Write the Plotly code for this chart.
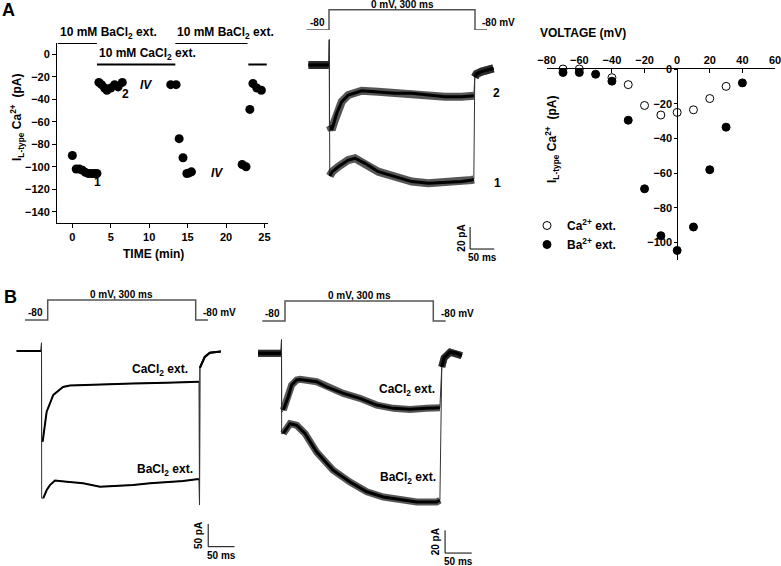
import plotly.graph_objects as go

W, H = 781, 566
FONT = "Liberation Sans, Arial, sans-serif"

# ---------------- DATA ----------------
# Panel A (left): time course of I L-type (pA) vs time (min)
tc_time = [0.0, 0.5, 0.9, 1.3, 1.7, 2.1, 2.5, 2.9, 3.2,
           3.45, 3.8, 4.2, 4.5, 5.0, 5.5, 5.95, 6.5,
           12.8, 13.5, 13.9, 14.4, 14.9, 15.2, 15.5,
           22.1, 22.6, 23.1, 23.5, 24.0, 24.6]
tc_current = [-90, -102, -102, -103, -105, -106, -106, -106, -106,
              -25, -27, -30, -32, -30, -27, -29, -25,
              -27, -27, -75, -92, -106, -105.5, -104.5,
              -98, -100, -49, -26, -30, -32]
tc_ticks_x = [0, 5, 10, 15, 20, 25]
tc_ticks_y = [0, -20, -40, -60, -80, -100, -120, -140]
# solution application periods (min)
ba_periods = [(-1.9, 3.2), (13.4, 22.8)]
ca_periods = [(3.2, 13.4), (22.9, 25.3)]

# Panel A (right): I-V relation
iv_voltage = [-70, -60, -50, -40, -30, -20, -10, 0, 10, 20, 30, 40]
iv_ca = [0, 0, 1, -5, -9, -21, -26.5, -25, -23.5, -17, -10, 1]
iv_ba = [-2, -2, -3, -7, -29.5, -69, -96, -104.5, -91, -58, -33.5, -8]
iv_ticks_x = [-80, -60, -40, -20, 0, 20, 40, 60]
iv_ticks_y = [0, -20, -40, -60, -80, -100]

# Voltage protocol (ms, mV)
prot_t = [-46, 0, 0, 300, 300, 325]
prot_v = [-80, -80, 0, 0, -80, -80]

# Panel A (middle): current traces (ms, pA)
a_pre_t = [-43, -30, -20, -10, -1]
a_pre_i = [0, 0, 0, 0, 0]
a_ca_t = [1, 5, 10, 15.3, 25.7, 39.3, 67, 101, 136, 170.6, 205, 239.5, 274, 295, 299]
a_ca_i = [-55, -59, -52, -43.9, -33.4, -27.3, -23.4, -24.3, -25.7, -25.7, -27.3, -28.8, -28.8, -27.9, -28]
a_ba_t = [1, 6.2, 18.6, 39.3, 53.2, 73.9, 101.4, 136, 170.6, 205, 239.5, 274, 295, 299]
a_ba_i = [-101, -97, -92.5, -86.4, -84.8, -89.4, -97, -101.5, -106, -107.5, -107, -106, -104.5, -104]
a_tail_t = [301, 305, 315.5, 339.5]
a_tail_i = [-11, -8, -6, -3]

# Panel B (left): current traces (ms, pA)
b1_pre_t = [-47, -35, -20, -5, -1]
b1_pre_i = [0, 0, 0, 0, 0]
b1_ca_t = [2.2, 9.8, 22.4, 40.8, 54, 79, 111, 174, 237.6, 287.5, 299]
b1_ca_i = [-200, -134, -97, -79.5, -76, -75, -73, -71.5, -70, -68, -68]
b1_ba_t = [3.4, 9.9, 16, 25.6, 47.8, 79, 111, 142.7, 174, 206, 237.6, 269, 294.5, 299]
b1_ba_i = [-325, -307, -296, -286, -288.5, -292, -299.5, -298, -296, -292, -290, -287, -283, -283]
b1_tail_t = [300.8, 310, 319.7, 340.6]
b1_tail_i = [-37, -13, -4, -1]

# Panel B (right): current traces (ms, pA)
b2_pre_t = [-44, -30, -15, -1]
b2_pre_i = [0, 0, 0, 0]
b2_ca_t = [3.4, 12.8, 19, 28.5, 34.7, 66, 85, 116, 147, 178.6, 210, 241, 272, 297]
b2_ca_i = [-50, -38, -28, -23.5, -23, -25, -29.5, -35.3, -39.7, -45.6, -48.5, -49.4, -48.5, -48]
b2_ba_t = [3.4, 16, 28.5, 44, 66, 96.6, 128.5, 160, 191, 222, 253.7, 291, 297]
b2_ba_i = [-70.6, -62, -63.4, -70.6, -87, -103, -113.4, -122, -126.6, -129, -131, -131, -129.5]
b2_tail_t = [300.5, 305, 316, 328.8, 338]
b2_tail_i = [-12, -4, 1, 0, -2]

# ---------------- LAYOUT HELPERS ----------------
def lin_range(p_lo, p_hi, v1, p1, v2, p2):
    k = (v2 - v1) / (p2 - p1)
    return [v1 + (p_lo - p1) * k, v1 + (p_hi - p1) * k]

def xdom(a, b):
    return [a / W, b / W]

def ydom(top, bottom):
    return [1 - bottom / H, 1 - top / H]

def hidden_x(a, b, anchors, yname):
    return dict(domain=xdom(a, b), range=lin_range(a, b, *anchors), visible=False,
                anchor=yname, fixedrange=True)

def hidden_y(top, bottom, anchors, xname):
    return dict(domain=ydom(top, bottom), range=lin_range(bottom, top, *anchors), visible=False,
                anchor=xname, fixedrange=True)

fig = go.Figure()
BOLD = dict(family=FONT, color="black", weight="bold")

def f(size):
    d = dict(BOLD)
    d["size"] = size
    return d

annotations = []

def ann(text, x, y, xref, yref, size=11, xanchor="center", yanchor="middle",
        angle=0, xshift=0, yshift=0):
    annotations.append(dict(text=text, x=x, y=y, xref=xref, yref=yref, showarrow=False,
                            font=f(size), xanchor=xanchor, yanchor=yanchor,
                            textangle=angle, xshift=xshift, yshift=yshift))

# ---------------- PANEL A left: time course ----------------
for (t0, t1) in ba_periods:
    fig.add_trace(go.Scatter(x=[t0, t1], y=[10, 10], mode="lines", xaxis="x", yaxis="y",
                             line=dict(color="black", width=2), cliponaxis=False,
                             showlegend=False, hoverinfo="skip"))
    ann("10 mM BaCl<sub>2</sub> ext.", t0, 10, "x", "y", size=12, xanchor="left",
        yanchor="bottom", yshift=0)
for i, (t0, t1) in enumerate(ca_periods):
    fig.add_trace(go.Scatter(x=[t0, t1], y=[-9, -9], mode="lines", xaxis="x", yaxis="y",
                             line=dict(color="black", width=2), cliponaxis=False,
                             showlegend=False, hoverinfo="skip"))
    if i == 0:
        ann("10 mM CaCl<sub>2</sub> ext.", t0, -9, "x", "y", size=12, xanchor="left",
            yanchor="bottom")

fig.add_trace(go.Scatter(x=tc_time, y=tc_current, mode="markers", xaxis="x", yaxis="y",
                         marker=dict(color="black", size=9), cliponaxis=False,
                         showlegend=False))
ann("1", 3.3, -113.7, "x", "y", size=12)
ann("2", 6.9, -35.7, "x", "y", size=12)
ann("<i>IV</i>", 9.6, -27.5, "x", "y", size=12)
ann("<i>IV</i>", 18.8, -105.2, "x", "y", size=12)
ann("TIME (min)", 153 / W, 1 - 254 / H, "paper", "paper", size=12)
ann("I<sub>L-type</sub> Ca<sup>2+</sup>  (pA)", 17 / W, 1 - 118 / H, "paper", "paper",
    size=12, angle=-90)

axis_common = dict(showgrid=False, zeroline=False, showline=True, linecolor="black",
                   linewidth=1, ticks="outside", tickcolor="black", ticklen=4,
                   tickfont=f(11), fixedrange=True, automargin=False)
fig.update_layout(
    xaxis=dict(domain=xdom(57, 268.3), range=[-2, 25.5], tickvals=tc_ticks_x,
               anchor="y", **axis_common),
    yaxis=dict(domain=ydom(43, 223), range=[-150, 10], tickvals=tc_ticks_y,
               anchor="x", **axis_common),
)

# ---------------- generic recording drawing ----------------
def add_recording(xa, ya, pre_t, pre_i, step_t, step_i, tail_t, tail_i,
                  on_peak, on_min, off_min, band_w, core_w):
    # thin transient path
    tx = pre_t + [0, 0.3] + step_t
    ty = pre_i + [on_peak, on_min] + step_i
    if off_min is not None:
        tx += [300, 300.3]
        ty += [off_min, tail_i[0]]
    tx += tail_t
    ty += tail_i
    fig.add_trace(go.Scatter(x=tx, y=ty, mode="lines", xaxis=xa, yaxis=ya,
                             line=dict(color="#333333", width=1), showlegend=False,
                             hoverinfo="skip", cliponaxis=False))
    bx = pre_t + [None] + step_t + [None] + tail_t
    by = pre_i + [None] + step_i + [None] + tail_i
    if band_w > 0:
        fig.add_trace(go.Scatter(x=bx, y=by, mode="lines", xaxis=xa, yaxis=ya,
                                 line=dict(color="rgba(30,30,30,0.75)", width=band_w),
                                 showlegend=False, hoverinfo="skip", cliponaxis=False))
    fig.add_trace(go.Scatter(x=bx, y=by, mode="lines", xaxis=xa, yaxis=ya,
                             line=dict(color="black", width=core_w), showlegend=False,
                             hoverinfo="skip", cliponaxis=False))

def add_protocol(xa, ya):
    fig.add_trace(go.Scatter(x=prot_t, y=prot_v, mode="lines", xaxis=xa, yaxis=ya,
                             line=dict(color="#555555", width=1.5), showlegend=False,
                             hoverinfo="skip", cliponaxis=False))
    ann("0 mV, 300 ms", 150, 0, xa, ya, size=10, yanchor="bottom", yshift=-2)
    ann("-80", prot_t[0], -80, xa, ya, size=10, xanchor="left", yanchor="bottom", xshift=1)
    ann("-80 mV", 311, -80, xa, ya, size=10, xanchor="left", yanchor="bottom")

def add_scalebar(xa, ya, t0, i0, ms, pa, ms_label, pa_label):
    fig.add_trace(go.Scatter(x=[t0, t0, t0 + ms], y=[i0 + pa, i0, i0], mode="lines",
                             xaxis=xa, yaxis=ya, line=dict(color="black", width=1),
                             showlegend=False, hoverinfo="skip", cliponaxis=False))
    ann(pa_label, t0, i0 + pa / 2, xa, ya, size=10, angle=-90, xanchor="right", xshift=-2)
    ann(ms_label, t0 + ms / 2, i0, xa, ya, size=10, yanchor="top", yshift=-1)

# ---------------- PANEL A middle ----------------
fig.update_layout(
    xaxis2=hidden_x(300, 520, (0, 329, 300, 475), "y2"),
    yaxis2=hidden_y(0, 40, (-80, 30, 0, 9.7), "x2"),
    xaxis3=hidden_x(295, 520, (0, 329.3, 300, 474.3), "y3"),
    yaxis3=hidden_y(30, 275, (0, 65, -20, 87), "x3"),
)
add_protocol("x2", "y2")
add_recording("x3", "y3", a_pre_t, a_pre_i, a_ca_t, a_ca_i, a_tail_t, a_tail_i,
              23, -60, None, 8, 3)
add_recording("x3", "y3", a_pre_t, a_pre_i, a_ba_t, a_ba_i, a_tail_t, a_tail_i,
              23, -101, None, 8, 3)
ann("2", 334.8, -25.5, "x3", "y3", size=12, xanchor="left")
ann("1", 337, -107.3, "x3", "y3", size=12, xanchor="left")
add_scalebar("x3", "y3", 291.3, -167.3, 50, 20, "50 ms", "20 pA")

# ---------------- PANEL A right: I-V ----------------
fig.add_trace(go.Scatter(x=iv_voltage, y=iv_ca, mode="markers", xaxis="x4", yaxis="y4",
                         name="Ca<sup>2+</sup> ext.", cliponaxis=False,
                         marker=dict(color="white", size=8,
                                     line=dict(color="black", width=1))))
fig.add_trace(go.Scatter(x=iv_voltage, y=iv_ba, mode="markers", xaxis="x4", yaxis="y4",
                         name="Ba<sup>2+</sup> ext.", cliponaxis=False,
                         marker=dict(color="black", size=8,
                                     line=dict(color="black", width=1))))
fig.update_layout(
    xaxis4=dict(domain=xdom(546.7, 775), range=[-80, 60], tickvals=iv_ticks_x, side="top",
                anchor="y4", showgrid=False, zeroline=False, showline=True,
                linecolor="black", linewidth=1, ticks="inside", ticklen=4,
                tickcolor="black", tickfont=f(11), fixedrange=True, automargin=False,
                ticklabeloverflow="allow"),
    yaxis4=dict(domain=ydom(69, 260), range=[-110, 0], tickvals=iv_ticks_y,
                anchor="free", position=677.3 / W, showgrid=False, zeroline=False,
                showline=True, linecolor="black", linewidth=1, ticks="outside",
                ticklen=3, tickcolor="black", tickfont=f(11), fixedrange=True,
                automargin=False),
)
ann("VOLTAGE (mV)", 583 / W, 1 - 33 / H, "paper", "paper", size=12)
ann("I<sub>L-type</sub> Ca<sup>2+</sup>  (pA)", 552 / W, 1 - 140 / H, "paper", "paper",
    size=12, angle=-90)

# ---------------- PANEL B left ----------------
fig.update_layout(
    xaxis5=hidden_x(10, 250, (0, 47.7, 300, 195.7), "y5"),
    yaxis5=hidden_y(285, 330, (-80, 320, 0, 300), "x5"),
    xaxis6=hidden_x(10, 250, (0, 41.5, 300, 199.5), "y6"),
    yaxis6=hidden_y(330, 566, (0, 351, -50, 373.65), "x6"),
)
add_protocol("x5", "y5")
add_recording("x6", "y6", b1_pre_t, b1_pre_i, b1_ca_t, b1_ca_i, b1_tail_t, b1_tail_i,
              18, -200, -340, 0, 2)
add_recording("x6", "y6", b1_pre_t, b1_pre_i, b1_ba_t, b1_ba_i, b1_tail_t, b1_tail_i,
              18, -325, -340, 0, 2)
ann("CaCl<sub>2</sub> ext.", 225, -42, "x6", "y6", size=12)
ann("BaCl<sub>2</sub> ext.", 234.5, -263, "x6", "y6", size=12)
add_scalebar("x6", "y6", 316.5, -432, 50, 50, "50 ms", "50 pA")

# ---------------- PANEL B right ----------------
fig.update_layout(
    xaxis7=hidden_x(255, 500, (0, 285, 300, 433.3), "y7"),
    yaxis7=hidden_y(285, 330, (-80, 321, 0, 301), "x7"),
    xaxis8=hidden_x(255, 500, (0, 281.5, 300, 441.5), "y8"),
    yaxis8=hidden_y(330, 566, (0, 353.3, -20, 376), "x8"),
)
add_protocol("x7", "y7")
add_recording("x8", "y8", b2_pre_t, b2_pre_i, b2_ca_t, b2_ca_i, b2_tail_t, b2_tail_i,
              12, -52, None, 7, 3)
add_recording("x8", "y8", b2_pre_t, b2_pre_i, b2_ba_t, b2_ba_i, b2_tail_t, b2_tail_i,
              12, -71, None, 7, 3)
ann("CaCl<sub>2</sub> ext.", 235.6, -32.4, "x8", "y8", size=12)
ann("BaCl<sub>2</sub> ext.", 237.3, -110, "x8", "y8", size=12)
add_scalebar("x8", "y8", 306.7, -176, 50, 20, "50 ms", "20 pA")

# panel letters
ann("A", 8 / W, 1 - 10 / H, "paper", "paper", size=18)
ann("B", 10 / W, 1 - 297 / H, "paper", "paper", size=18)

fig.update_layout(
    width=W, height=H, margin=dict(l=0, r=0, t=0, b=0, pad=0, autoexpand=False),
    plot_bgcolor="white", paper_bgcolor="white",
    font=f(11),
    annotations=annotations,
    showlegend=True,
    legend=dict(x=527 / W, y=1 - 211 / H, xanchor="left", yanchor="top",
                font=f(12), bgcolor="rgba(0,0,0,0)", tracegroupgap=0,
                itemwidth=30),
    hovermode=False,
)

fig.write_html(
    "out.html",
    config={"displayModeBar": False, "staticPlot": True},
    post_script="document.body.style.margin='0px';document.body.style.padding='0px';"
                "document.body.style.overflow='hidden';",
)
